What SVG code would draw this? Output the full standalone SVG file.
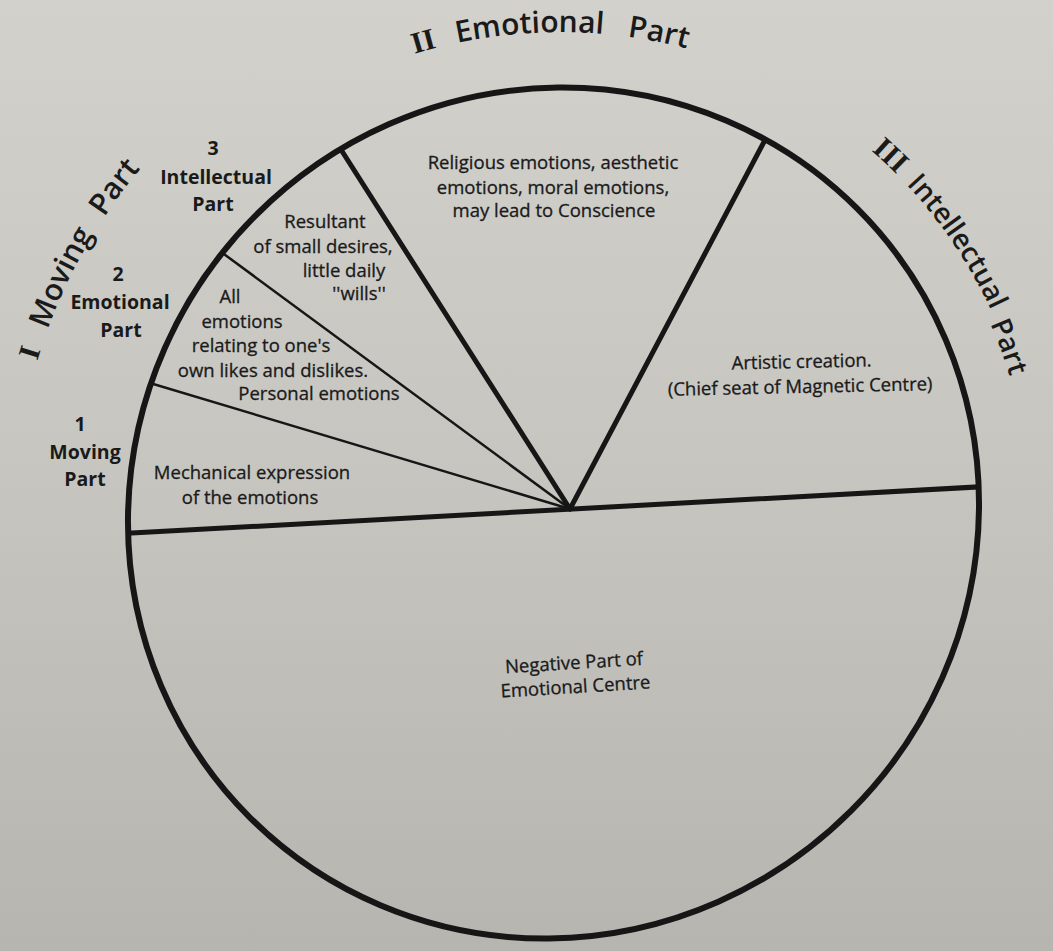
<svg xmlns="http://www.w3.org/2000/svg" width="1053" height="951" viewBox="0 0 1053 951">
<defs>
<linearGradient id="bg" x1="0" y1="0" x2="0" y2="1">
<stop offset="0" stop-color="#d2d1cc"/>
<stop offset="0.5" stop-color="#c6c5c0"/>
<stop offset="1" stop-color="#b6b5b0"/>
</linearGradient>
<clipPath id="inside">
<ellipse cx="553.5" cy="513" rx="430" ry="421" transform="rotate(-45 553.5 513)"/>
</clipPath>
<path id="arcTop" d="M 90.2 361 A 500 500 0 0 1 1029.8 361"/>
<path id="arcRight" d="M 636.9 38.3 A 483 483 0 0 1 1006.9 679.2"/>
<path id="arcRight2" d="M 635.8 44.2 A 477 477 0 0 1 1001.2 677.1"/>
<path id="arcLeft" d="M 47.4 698 A 538 538 0 0 1 459.6 -15.8"/>
</defs>
<style>
.t { font-family: "Open Sans", "Liberation Sans", sans-serif; fill: #1a1a1a; stroke: #1a1a1a; stroke-width: 0.3px; font-weight: 500; font-size: 18.5px; text-anchor: middle; }
.b { font-weight: bold; font-size: 19.5px; stroke-width: 0; }
.big { font-family: "Open Sans", "Liberation Sans", sans-serif; fill: #1a1a1a; font-weight: 600; font-size: 30px; }
.sm { font-size: 28px; }
.rn { font-family: "Liberation Serif", serif; font-weight: bold; fill: #1a1a1a; font-size: 30px; }
.thick { stroke: #161616; stroke-width: 5; stroke-linecap: round; fill: none; }
.thin { stroke: #161616; stroke-width: 2.5; fill: none; }
.rim { stroke: #161616; stroke-width: 6; fill: none; }
</style>
<rect width="1053" height="951" fill="url(#bg)"/>

<g id="connectors" clip-path="url(#inside)">
<line class="thick" x1="115" y1="534" x2="995" y2="486"/>
<line class="thick" x1="570" y1="509" x2="774.8" y2="121.5"/>
<line class="thick" x1="570" y1="509" x2="328.5" y2="130"/>
<line class="thin" x1="570" y1="509" x2="203.5" y2="239"/>
<line class="thin" x1="570" y1="509" x2="129" y2="376.7"/>
</g>

<g id="circle">
<ellipse class="rim" cx="553.5" cy="513" rx="430" ry="421" transform="rotate(-45 553.5 513)"/>
</g>

<g id="title-emotional">
<text class="rn"><textPath href="#arcTop" startOffset="463">II</textPath></text>
<text class="big"><textPath href="#arcTop" startOffset="507">Emotional</textPath></text>
<text class="big"><textPath href="#arcTop" startOffset="678">Part</textPath></text>
</g>

<g id="title-intellectual">
<text class="rn"><textPath href="#arcRight" startOffset="263">III</textPath></text>
<text class="big sm"><textPath href="#arcRight" startOffset="312">Intellectual</textPath></text>
<text class="big sm"><textPath href="#arcRight2" startOffset="470">Part</textPath></text>
</g>

<g id="title-moving">
<text class="rn"><textPath href="#arcLeft" startOffset="343">I</textPath></text>
<text class="big"><textPath href="#arcLeft" startOffset="376">Moving</textPath></text>
<text class="big"><textPath href="#arcLeft" startOffset="502">Part</textPath></text>
</g>

<g id="label-3">
<text class="t b" x="213" y="155">3</text>
<text class="t b" x="216" y="184">Intellectual</text>
<text class="t b" x="213" y="211">Part</text>
</g>
<g id="label-2">
<text class="t b" x="118" y="281">2</text>
<text class="t b" x="120" y="309">Emotional</text>
<text class="t b" x="121" y="337">Part</text>
</g>
<g id="label-1">
<text class="t b" x="80" y="431">1</text>
<text class="t b" x="85" y="459">Moving</text>
<text class="t b" x="85" y="486">Part</text>
</g>

<g id="sector-religious">
<text class="t" x="553" y="169">Religious emotions, aesthetic</text>
<text class="t" x="553" y="194">emotions, moral emotions,</text>
<text class="t" x="554" y="217">may lead to Conscience</text>
</g>

<g id="sector-resultant">
<text class="t" x="325" y="228">Resultant</text>
<text class="t" x="323" y="253">of small desires,</text>
<text class="t" x="344" y="277">little daily</text>
<text class="t" x="359" y="300">''wills''</text>
</g>

<g id="sector-personal">
<text class="t" x="230" y="303">All</text>
<text class="t" x="242" y="328">emotions</text>
<text class="t" x="261" y="352">relating to one's</text>
<text class="t" x="273" y="377">own likes and dislikes.</text>
<text class="t" x="319" y="400">Personal emotions</text>
</g>

<g id="sector-mechanical">
<text class="t" x="252" y="479">Mechanical expression</text>
<text class="t" x="250" y="504">of the emotions</text>
</g>

<g id="sector-artistic" transform="rotate(-1.2 801 380)">
<text class="t" x="802" y="368">Artistic creation.</text>
<text class="t" x="800" y="393">(Chief seat of Magnetic Centre)</text>
</g>

<g id="sector-negative" transform="rotate(-3.5 575 680)">
<text class="t" x="575" y="669">Negative Part of</text>
<text class="t" x="575" y="693">Emotional Centre</text>
</g>
</svg>
